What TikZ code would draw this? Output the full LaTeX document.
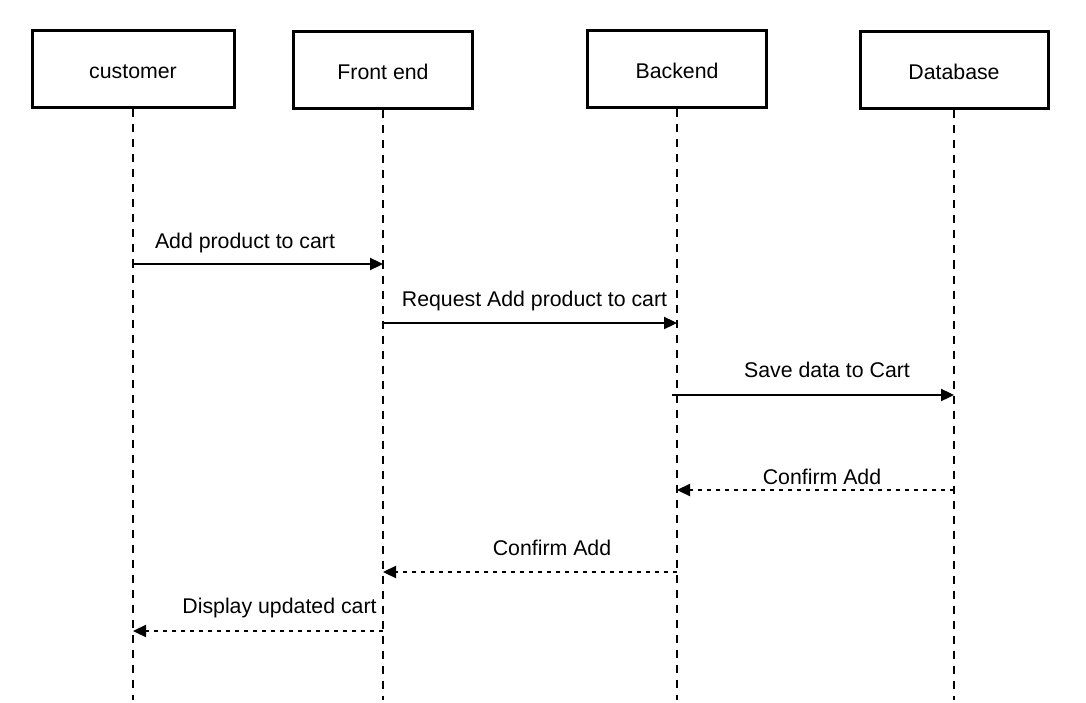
\documentclass[tikz,border=0pt]{standalone}
\usepackage{fontspec}
\setmainfont{Liberation Sans}
\usepackage{tikz}
\usetikzlibrary{arrows.meta}
\usetikzlibrary{positioning}

\begin{document}
\begin{tikzpicture}[x=1pt, y=-1pt, font=\fontsize{21.3}{25}\selectfont,
  actor/.style={draw, line width=3pt, minimum height=77pt, inner sep=0pt,
    text height=19pt, text depth=0pt},
  lifeline/.style={line width=2.2pt, dash pattern=on 8pt off 7pt},
  msg/.style={line width=2.3pt, -{Triangle[length=13pt,width=12pt]}},
  reply/.style={msg, dash pattern=on 4.5pt off 4.5pt},
  lbl/.style={anchor=base, inner sep=0pt}]
  \useasboundingbox (0,0) rectangle (1086,703);

  \node[actor, minimum width=202pt] (cust)  at (133,69.5) {customer};
  \node[actor, minimum width=179pt] (front) at (383,70.5) {Front end};
  \node[actor, minimum width=179pt] (back)  at (677,69.5) {Backend};
  \node[actor, minimum width=188pt] (db)    at (954,70.5) {Database};

  \coordinate (custEnd)  at (133,700);
  \coordinate (frontEnd) at (383,700);
  \coordinate (backEnd)  at (677,700);
  \coordinate (dbEnd)    at (954,700);

  \draw[lifeline] (cust)  -- (custEnd);
  \draw[lifeline] (front) -- (frontEnd);
  \draw[lifeline] (back)  -- (backEnd);
  \draw[lifeline] (db)    -- (dbEnd);

  % requests
  \path[msg] (cust |- 0,264) edge (front |- 0,264);
  \node[lbl] (add) at (245,248) {Add product to cart};
  \path[msg] (front |- 0,323) edge (back |- 0,323);
  \node[lbl] (req) at (534.5,306) {Request Add product to cart};
  \path[msg] ([xshift=-5pt]back |- 0,395) edge (db |- 0,395);
  \node[lbl] (save) at (827,377) {Save data to Cart};

  % replies
  \path[reply] (db |- 0,490) edge (back |- 0,490);
  \node[lbl] (conf1) at (822,484) {Confirm Add};
  \path[reply] (back |- 0,572) edge (front |- 0,572);
  \node[lbl] (conf2) at (552,555) {Confirm Add};
  \path[reply] (front |- 0,631) edge (cust |- 0,631);
  \node[lbl] (disp) at (279.5,613) {Display updated cart};

\end{tikzpicture}
\end{document}
